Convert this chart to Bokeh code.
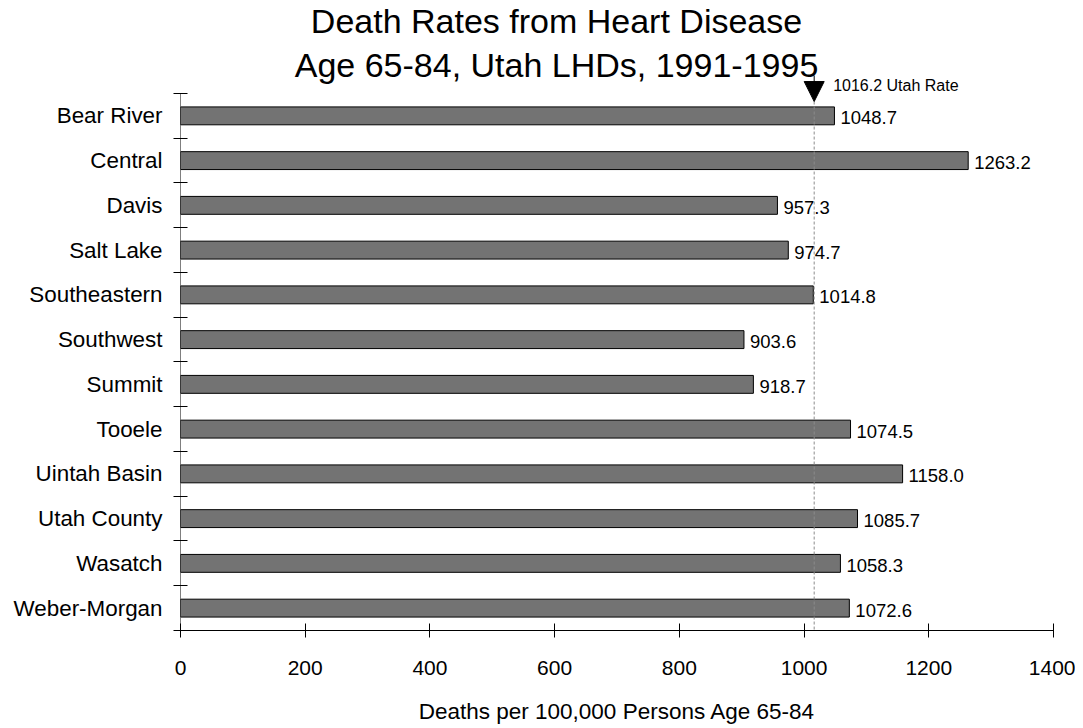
from bokeh.plotting import figure
from bokeh.models import Range1d, FixedTicker, Label, Arrow, NormalHead, ColumnDataSource
from bokeh.core.properties import value
from bokeh.embed import file_html
from bokeh.resources import INLINE

districts = ["Bear River", "Central", "Davis", "Salt Lake", "Southeastern", "Southwest",
             "Summit", "Tooele", "Uintah Basin", "Utah County", "Wasatch", "Weber-Morgan"]
rates = [1048.7, 1263.2, 957.3, 974.7, 1014.8, 903.6, 918.7, 1074.5, 1158.0, 1085.7, 1058.3, 1072.6]
utah_rate = 1016.2
x_ticks = [0, 200, 400, 600, 800, 1000, 1200, 1400]
title_lines = ["Death Rates from Heart Disease", "Age 65-84, Utah LHDs, 1991-1995"]
x_label = "Deaths per 100,000 Persons Age 65-84"

FONT = "Liberation Sans"
n = len(districts)
centers = [i + 0.5 for i in range(n)]

p = figure(width=1075, height=728, output_backend="svg", toolbar_location=None,
           x_range=Range1d(0, 1400), y_range=Range1d(n, -1.966),
           min_border_left=180, min_border_right=22, min_border_top=5, min_border_bottom=98)
p.title.text = ""
p.grid.visible = False
p.outline_line_color = None
p.background_fill_color = "white"
p.border_fill_color = "white"

src = ColumnDataSource(dict(y=centers, x=rates, name=districts,
                            lab=[f"{v:.1f}" for v in rates]))
p.hbar(y="y", right="x", left=0, height=0.40, source=src,
       fill_color="#737373", line_color="black", line_width=1)
p.text(x="x", y="y", text="lab", source=src, x_offset=6, y_offset=2,
       text_font=value(FONT), text_font_size="18.5px", text_baseline="middle",
       text_align="left", text_color="black")

# y axis line (only spanning the categories)
p.segment(x0=[0], y0=[0], x1=[0], y1=[n], line_color="black", line_width=1)

# reference line
p.segment(x0=[utah_rate], y0=[0.18], x1=[utah_rate], y1=[n],
          line_color="#8c8c8c", line_dash="3 2", line_width=1)
p.add_layout(Arrow(end=NormalHead(size=20, fill_color="black", line_color="black"),
                   x_start=utah_rate, y_start=-0.40, x_end=utah_rate, y_end=0.18,
                   line_color="black", line_width=1))
p.add_layout(Label(x=utah_rate, y=-0.18, x_offset=19, text=f"{utah_rate:.1f} Utah Rate",
                   text_font=FONT, text_font_size="16px", text_baseline="middle",
                   text_color="black"))

# titles
p.text(x=[603, 603], y=[-1.61, -0.635], text=title_lines, text_align="center",
       text_baseline="alphabetic", text_font=value(FONT), text_font_size="34px",
       text_color="black")

# x axis
xa = p.xaxis[0]
xa.ticker = FixedTicker(ticks=x_ticks)
xa.minor_tick_line_color = None
xa.major_tick_in = 7
xa.major_tick_out = 7
xa.major_label_standoff = 23
xa.major_label_text_font = FONT
xa.major_label_text_font_size = "21px"
xa.major_label_text_color = "black"
xa.axis_line_color = "black"
xa.major_tick_line_color = "black"
xa.axis_label = x_label
xa.axis_label_text_font = FONT
xa.axis_label_text_font_size = "22.5px"
xa.axis_label_text_font_style = "normal"
xa.axis_label_text_color = "black"
xa.axis_label_standoff = 21

# y axis
ya = p.yaxis[0]
ya.ticker = FixedTicker(ticks=centers, minor_ticks=list(range(n + 1)))
ya.major_label_overrides = {c: d for c, d in zip(centers, districts)}
ya.major_tick_in = 0
ya.major_tick_out = 0
ya.minor_tick_in = 7
ya.minor_tick_out = 7
ya.minor_tick_line_color = "black"
ya.major_label_standoff = 11
ya.major_label_text_font = FONT
ya.major_label_text_font_size = "22.4px"
ya.major_label_text_color = "black"
ya.axis_line_color = None

open("out.html", "w").write(file_html(p, INLINE))
